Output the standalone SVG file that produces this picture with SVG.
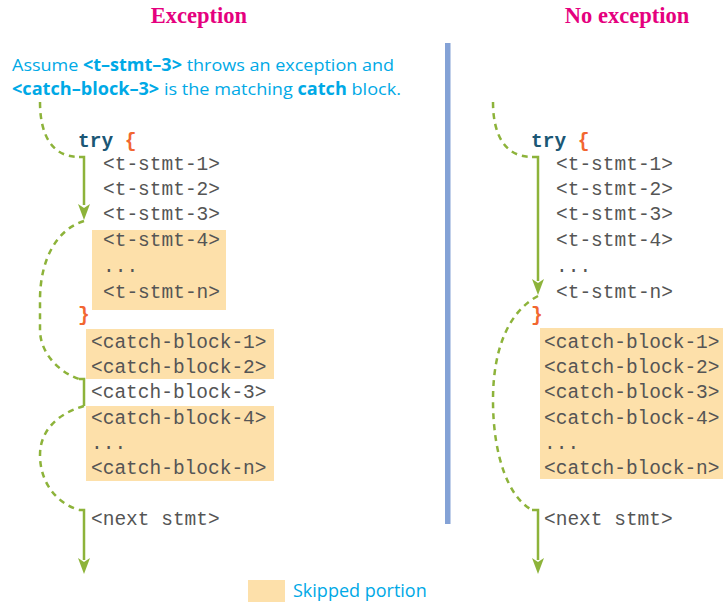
<svg xmlns="http://www.w3.org/2000/svg" width="723" height="602" viewBox="0 0 723 602">
<defs>
<style>
.title{font-family:"Liberation Serif",serif;font-weight:bold;font-size:22.5px;fill:#e5007e}
.note{font-family:"Open Sans","Liberation Sans",sans-serif;font-size:17px;fill:#00a9e6}
.code{font-family:"Liberation Mono",monospace;font-size:19.5px;fill:#555555}
.kw{font-family:"Liberation Mono",monospace;font-size:19.5px;font-weight:bold;fill:#1b5775}
.br{font-family:"Liberation Mono",monospace;font-size:19.5px;font-weight:bold;fill:#f26631}
.skip{fill:#fde0aa}
.dash{fill:none;stroke:#8db33a;stroke-width:2.5;stroke-dasharray:6 5}
.solid{fill:none;stroke:#8db33a;stroke-width:2.5}
.head{fill:#8db33a}
</style>
</defs>
<rect width="723" height="602" fill="#ffffff"/>

<g id="titles">
<text class="title" x="199" y="23" text-anchor="middle">Exception</text>
<text class="title" x="627" y="23" text-anchor="middle">No exception</text>
</g>

<g id="note">
<text class="note" x="12" y="71" textLength="382" lengthAdjust="spacingAndGlyphs">Assume <tspan font-weight="bold">&lt;t–stmt–3&gt;</tspan> throws an exception and</text>
<text class="note" x="12" y="95" textLength="389" lengthAdjust="spacingAndGlyphs"><tspan font-weight="bold">&lt;catch–block–3&gt;</tspan> is the matching <tspan font-weight="bold">catch</tspan> block.</text>
</g>

<g id="separator">
<rect x="445" y="43" width="5.5" height="481" fill="#84a2d6"/>
</g>

<g id="left-code">
<rect class="skip" x="92" y="230" width="134" height="80"/>
<rect class="skip" x="86" y="329" width="188" height="50"/>
<rect class="skip" x="86" y="406" width="188" height="75"/>
<text class="kw" x="78" y="147">try <tspan class="br">{</tspan></text>
<text class="code" x="103" y="170">&lt;t-stmt-1&gt;</text>
<text class="code" x="103" y="195">&lt;t-stmt-2&gt;</text>
<text class="code" x="103" y="220">&lt;t-stmt-3&gt;</text>
<text class="code" x="103" y="246">&lt;t-stmt-4&gt;</text>
<text class="code" x="103" y="272">...</text>
<text class="code" x="103" y="298">&lt;t-stmt-n&gt;</text>
<text class="br" x="78" y="321">}</text>
<text class="code" x="91" y="348">&lt;catch-block-1&gt;</text>
<text class="code" x="91" y="373">&lt;catch-block-2&gt;</text>
<text class="code" x="91" y="398">&lt;catch-block-3&gt;</text>
<text class="code" x="91" y="424">&lt;catch-block-4&gt;</text>
<text class="code" x="91" y="449">...</text>
<text class="code" x="91" y="474">&lt;catch-block-n&gt;</text>
<text class="code" x="91" y="525">&lt;next stmt&gt;</text>
</g>

<g id="right-code">
<rect class="skip" x="540" y="328" width="183" height="151"/>
<text class="kw" x="531" y="147">try <tspan class="br">{</tspan></text>
<text class="code" x="556" y="170">&lt;t-stmt-1&gt;</text>
<text class="code" x="556" y="195">&lt;t-stmt-2&gt;</text>
<text class="code" x="556" y="220">&lt;t-stmt-3&gt;</text>
<text class="code" x="556" y="246">&lt;t-stmt-4&gt;</text>
<text class="code" x="556" y="272">...</text>
<text class="code" x="556" y="298">&lt;t-stmt-n&gt;</text>
<text class="br" x="531" y="321">}</text>
<text class="code" x="544" y="348">&lt;catch-block-1&gt;</text>
<text class="code" x="544" y="373">&lt;catch-block-2&gt;</text>
<text class="code" x="544" y="398">&lt;catch-block-3&gt;</text>
<text class="code" x="544" y="424">&lt;catch-block-4&gt;</text>
<text class="code" x="544" y="449">...</text>
<text class="code" x="544" y="474">&lt;catch-block-n&gt;</text>
<text class="code" x="544" y="525">&lt;next stmt&gt;</text>
</g>

<g id="connectors">
<path class="dash" d="M40,102 C40,135 52,157 79,157"/>
<path class="solid" d="M79,157 H84 V205"/>
<polygon class="head" points="78,204 84,208 90,204 84,220"/>
<path class="dash" d="M84,221 C55,230 40,262 40,300 L40,330 C40,352 58,372 79,379"/>
<path class="solid" d="M79,379 H84 V406"/>
<path class="dash" d="M84,406 C56,414 40,432 40,455 C40,482 56,503 79,510"/>
<path class="solid" d="M79,510 H84 V560"/>
<polygon class="head" points="78,558 84,562 90,558 84,574"/>

<path class="dash" d="M493,102 C493,135 505,157 532,157"/>
<path class="solid" d="M532,157 H538 V281"/>
<polygon class="head" points="532,279 538,283 544,279 538,295"/>
<path class="dash" d="M538,296 C508,312 493,350 493,400 C493,455 508,497 532,510"/>
<path class="solid" d="M532,510 H538 V560"/>
<polygon class="head" points="532,558 538,562 544,558 538,574"/>
</g>

<g id="legend">
<rect class="skip" x="248" y="580" width="37" height="22"/>
<text class="note" x="293" y="597" style="font-size:18px">Skipped portion</text>
</g>
</svg>
